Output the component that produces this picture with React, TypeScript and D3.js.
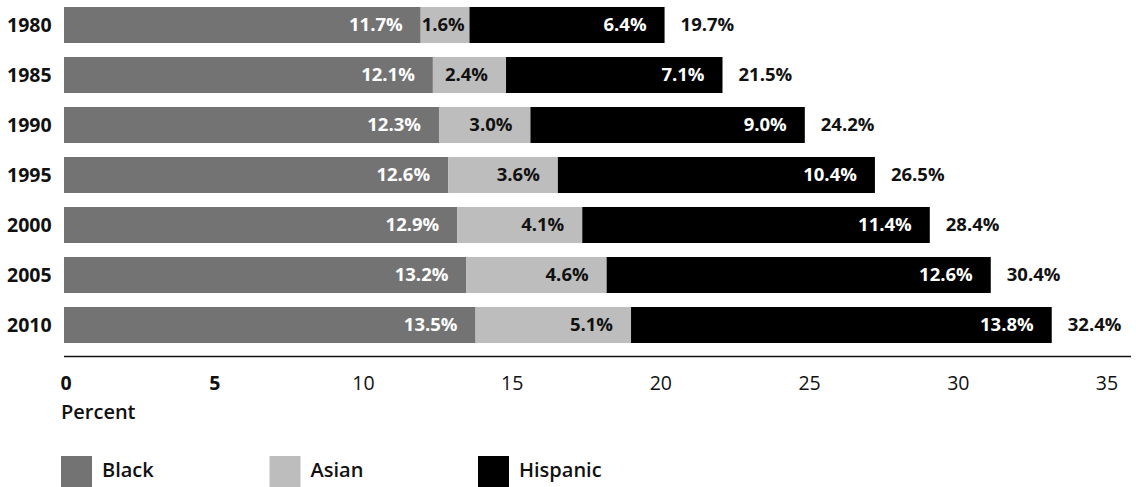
import React from "react";
import * as d3 from "d3";

const years = ["1980", "1985", "1990", "1995", "2000", "2005", "2010"];
const black = [11.7, 12.1, 12.3, 12.6, 12.9, 13.2, 13.5];
const asian = [1.6, 2.4, 3.0, 3.6, 4.1, 4.6, 5.1];
const hispanic = [6.4, 7.1, 9.0, 10.4, 11.4, 12.6, 13.8];
const totals = [19.7, 21.5, 24.2, 26.5, 28.4, 30.4, 32.4];
const ticks = [0, 5, 10, 15, 20, 25, 30, 35];
const seriesNames = ["Black", "Asian", "Hispanic"];
const seriesColors = ["#737373", "#bdbdbd", "#000000"];
const labelColors = ["#ffffff", "#111111", "#ffffff"];

const W = 1136;
const H = 487;
const FONT = "'Open Sans', 'Noto Sans', sans-serif";

let ctx: CanvasRenderingContext2D | null = null;
function measure(text: string, size: number, weight: string) {
  if (!ctx && typeof document !== "undefined") {
    ctx = document.createElement("canvas").getContext("2d");
  }
  if (!ctx) return text.length * size * 0.6;
  ctx.font = `${weight} ${size}px 'Open Sans'`;
  return ctx.measureText(text).width;
}

export default function App() {
  const x = d3.scaleLinear().domain([0, 35]).range([64, 1131]);
  const xLabel = d3.scaleLinear().domain([0, 35]).range([66, 1107]);
  const y = d3
    .scaleBand<string>()
    .domain(years)
    .range([0, 350])
    .paddingInner(0.28)
    .paddingOuter(0.14);

  const rows = years.map((yr, i) => {
    const vals = [black[i], asian[i], hispanic[i]];
    const stack: { x0: number; x1: number; v: number; k: number }[] = [];
    let acc = 0;
    vals.forEach((v, k) => {
      stack.push({ x0: acc, x1: acc + v, v, k });
      acc += v;
    });
    return { yr, stack, end: acc, total: totals[i] };
  });

  const legendX = d3.scaleLinear().domain([0, 1]).range([61, 269.5]);
  const labelSize = 18.5;

  return (
    <svg
      width={W}
      height={H}
      style={{ position: "absolute", left: 0, top: 0, background: "#fff" }}
      fontFamily={FONT}
    >
      {rows.map((r) => {
        const by = y(r.yr)!;
        const bh = y.bandwidth();
        const cy = by + bh / 2;
        return (
          <g key={r.yr}>
            <text
              x={7}
              y={cy}
              dy="0.35em"
              fontSize={19.5}
              fontWeight={700}
              fill="#111"
            >
              {r.yr}
            </text>
            {r.stack.map((s) => (
              <rect
                key={s.k}
                x={x(s.x0)}
                y={by}
                width={x(s.x1) - x(s.x0)}
                height={bh}
                fill={seriesColors[s.k]}
              />
            ))}
            {r.stack.map((s) => {
              const txt = `${s.v.toFixed(1)}%`;
              const tw = measure(txt, labelSize, "700");
              const lx = Math.max(x(s.x1) - 18, x(s.x0) + tw + 1);
              return (
                <text
                  key={"l" + s.k}
                  x={lx}
                  y={cy}
                  dy="0.35em"
                  textAnchor="end"
                  fontSize={labelSize}
                  fontWeight={700}
                  fill={labelColors[s.k]}
                >
                  {txt}
                </text>
              );
            })}
            <text
              x={x(r.end) + 16}
              y={cy}
              dy="0.35em"
              fontSize={labelSize}
              fontWeight={700}
              fill="#111"
            >
              {`${r.total.toFixed(1)}%`}
            </text>
          </g>
        );
      })}
      <line
        x1={x(0)}
        x2={x(35)}
        y1={356.5}
        y2={356.5}
        stroke="#111"
        strokeWidth={1.6}
      />
      {ticks.map((t) => (
        <text
          key={t}
          x={xLabel(t)}
          y={383}
          dy="0.35em"
          textAnchor="middle"
          fontSize={19.5}
          fontWeight={t < 10 ? 700 : 400}
          fill="#111"
        >
          {t}
        </text>
      ))}
      <text x={61} y={412} dy="0.35em" fontSize={20} fontWeight={600} fill="#111">
        Percent
      </text>
      {seriesNames.map((n, k) => (
        <g key={n}>
          <rect
            x={legendX(k)}
            y={456}
            width={31}
            height={31}
            fill={seriesColors[k]}
          />
          <text
            x={legendX(k) + 41}
            y={470}
            dy="0.35em"
            fontSize={20}
            fontWeight={600}
            fill="#111"
          >
            {n}
          </text>
        </g>
      ))}
    </svg>
  );
}
